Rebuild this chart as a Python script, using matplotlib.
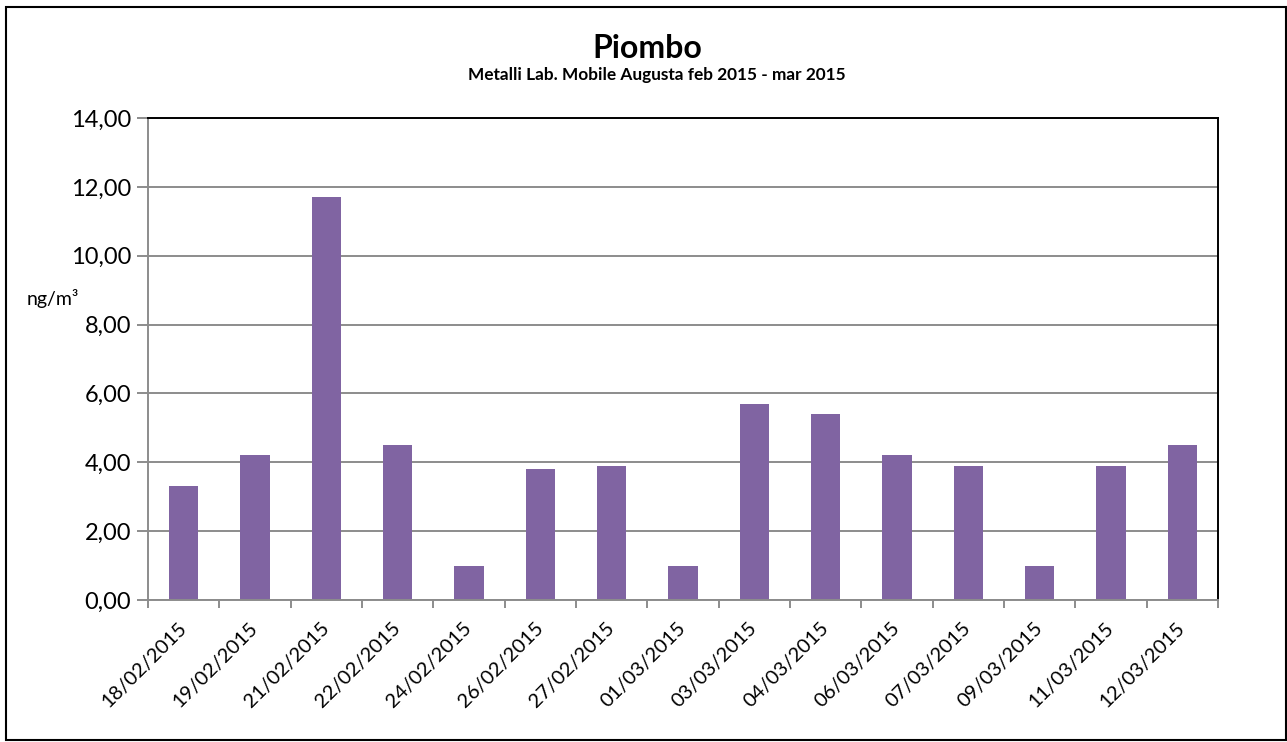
import numpy as np
import matplotlib
matplotlib.use("Agg")
import matplotlib.pyplot as plt
from matplotlib.patches import Rectangle
from matplotlib.transforms import ScaledTranslation

dates = ["18/02/2015", "19/02/2015", "21/02/2015", "22/02/2015", "24/02/2015",
         "26/02/2015", "27/02/2015", "01/03/2015", "03/03/2015", "04/03/2015",
         "06/03/2015", "07/03/2015", "09/03/2015", "11/03/2015", "12/03/2015"]
piombo = [3.3, 4.2, 11.7, 4.5, 1.0, 3.8, 3.9, 1.0, 5.7, 5.4, 4.2, 3.9, 1.0, 3.9, 4.5]
y_ticks = [0, 2, 4, 6, 8, 10, 12, 14]

plt.rcParams['font.family'] = ['Lato', 'DejaVu Sans']

W, H = 1287, 742
fig = plt.figure(figsize=(W / 100, H / 100), dpi=100)
ax = fig.add_axes([148 / W, 1 - 600 / H, (1218 - 148) / W, (600 - 118) / H])

x = np.arange(len(dates))
ax.bar(x, piombo, width=0.41, color="#8064A2", zorder=3)

ax.set_xlim(-0.5, len(dates) - 0.5)
ax.set_ylim(0, 14)
ax.set_yticks(y_ticks)
ax.set_yticklabels([f"{v:.2f}".replace(".", ",") for v in y_ticks], fontsize=17)
ax.yaxis.grid(True, color="#8c8c8c", linewidth=1.4, zorder=1)

ax.set_xticks(x)
ax.set_xticklabels(dates, rotation=45, ha="right", rotation_mode="anchor", fontsize=14.5)
ax.tick_params(axis="x", which="major", length=0, pad=14)
shift = ScaledTranslation(-6 / 100, 0, fig.dpi_scale_trans)
for lbl in ax.get_xticklabels():
    lbl.set_transform(lbl.get_transform() + shift)
ax.set_xticks(np.arange(-0.5, len(dates), 1), minor=True)
ax.tick_params(axis="x", which="minor", length=6, width=1.4, color="#8c8c8c")
ax.tick_params(axis="y", length=8, width=1.4, color="#8c8c8c", pad=4)

for side in ("left", "bottom"):
    ax.spines[side].set_color("#8c8c8c")
    ax.spines[side].set_linewidth(1.4)
for side in ("top", "right"):
    ax.spines[side].set_color("black")
    ax.spines[side].set_linewidth(1.4)
ax.spines["bottom"].set_zorder(4)

fig.text(647 / W, 1 - 49 / H, "Piombo", ha="center", va="center",
         fontsize=23, fontweight="bold")
fig.text(657 / W, 1 - 75 / H, "Metalli Lab. Mobile Augusta feb 2015 - mar 2015",
         ha="center", va="center", fontsize=12.4, fontweight="bold")
fig.text(27 / W, 1 - 299 / H, "ng/m³", ha="left", va="center", fontsize=14)

fig.patches.append(Rectangle((6 / W, 1 - 740 / H), 1280 / W, 733 / H,
                             transform=fig.transFigure, fill=False,
                             edgecolor="black", linewidth=1.5))

fig.savefig("out.png", dpi=100)
